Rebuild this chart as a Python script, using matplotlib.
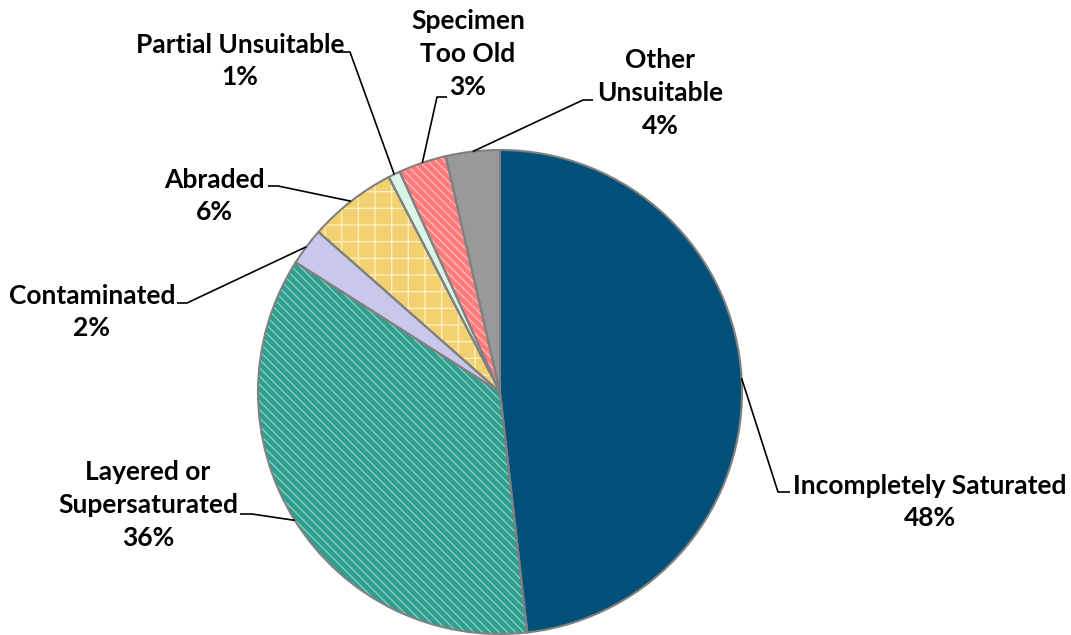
import numpy as np
import matplotlib
matplotlib.use('Agg')
import matplotlib.pyplot as plt

# Data
###############################################################################
categories = ['Incompletely Saturated', 'Layered or\nSupersaturated', 'Contaminated',
              'Abraded', 'Partial Unsuitable', 'Specimen\nToo Old', 'Other\nUnsuitable']
values = [48.2, 35.8, 2.5, 5.9, 0.8, 3.2, 3.6]
pct_labels = ['48%', '36%', '2%', '6%', '1%', '3%', '4%']

colors = ['#00507A', '#2E9E8F', '#C8C8EC', '#F2D170', '#DAF5E6', '#FF7B7B', '#999999']
hatches = ['', '\\\\\\\\', '', '+', '', '\\\\\\\\', '']
hatch_colors = ['#00507A', '#8FD0C6', '#C8C8EC', '#FFF0C8', '#DAF5E6', '#FFBDBD', '#999999']

# label text centre (x, y in pixels from top) and leader elbow / end
label_pos = [(930, 502), (148, 505), (92, 312), (214, 196), (240, 61), (468, 54), (660, 93)]
elbows = [((778, 492), (790, 492)), ((252, 514), (240, 514)), ((187, 303), (177, 303)),
          ((278, 186), (268, 186)), ((350, 52), (338, 52)), ((437, 97), (447, 97)),
          ((583, 100), (593, 100))]

W, H = 1071, 635
CX, CY, R = 500, 392, 242

plt.rcParams['font.family'] = ['Lato', 'DejaVu Sans']
plt.rcParams['hatch.linewidth'] = 0.9


def fy(y):
    return H - y


fig = plt.figure(figsize=(W / 100, H / 100), dpi=100)
ax = fig.add_axes([0, 0, 1, 1])

# filled + hatched wedges
wedges, _ = ax.pie(values, colors=colors, startangle=90, counterclock=False,
                   center=(CX, fy(CY)), radius=R, hatch=hatches)
for w, hc in zip(wedges, hatch_colors):
    w.set_edgecolor(hc)
    w.set_linewidth(0)

# grey outlines on top
outl, _ = ax.pie(values, startangle=90, counterclock=False, center=(CX, fy(CY)),
                 radius=R, wedgeprops=dict(fill=False, edgecolor='#808080', linewidth=1.5))

# labels and leader lines
for w, cat, pct, (tx, ty), (e1, e2) in zip(wedges, categories, pct_labels, label_pos, elbows):
    ang = np.deg2rad((w.theta1 + w.theta2) / 2)
    ax_pt = (CX + R * np.cos(ang), fy(CY) + R * np.sin(ang))
    ax.plot([ax_pt[0], e1[0], e2[0]], [ax_pt[1], fy(e1[1]), fy(e2[1])],
            color='black', lw=1.2, solid_capstyle='butt', zorder=5)
    ax.text(tx, fy(ty), cat + '\n' + pct, ha='center', va='center',
            fontsize=19, fontweight='bold', linespacing=1.44)

ax.set_xlim(0, W)
ax.set_ylim(0, H)
ax.set_aspect('equal')
ax.axis('off')

fig.savefig('out.png', dpi=100, facecolor='white')
